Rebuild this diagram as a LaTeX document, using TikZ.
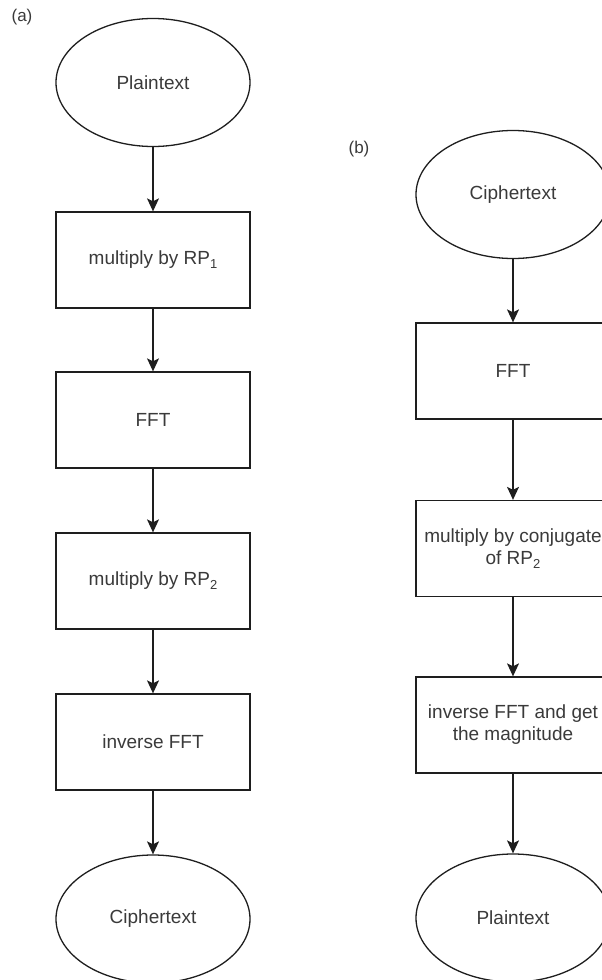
\documentclass[tikz,border=0pt]{standalone}
\usepackage{fontspec}
\setmainfont{Liberation Sans}
\usetikzlibrary{shapes.geometric,arrows.meta}

\definecolor{edgecol}{HTML}{1E1E1E}
\definecolor{textcol}{HTML}{3A3A3A}

% subscript index as drawn in the step labels
\newcommand{\rpidx}[1]{\raisebox{-0.35ex}{\fontsize{13}{13}\selectfont #1}}

\tikzset{
  base/.style={draw=edgecol, line width=1.3pt, fill=white, text=textcol,
    font=\fontsize{19}{22}\selectfont, align=center, inner sep=0pt},
  terminal/.style={base, ellipse, minimum width=194pt, minimum height=128pt},
  stepbox/.style={base, rectangle, minimum width=194pt, minimum height=96pt},
  flow/.style={draw=edgecol, line width=1.3pt,
    -{Stealth[length=13pt,width=12pt,inset=3pt]}},
  tag/.style={text=textcol, font=\fontsize{17}{20}\selectfont, inner sep=0pt}
}

\begin{document}
\begin{tikzpicture}[x=1pt,y=-1pt]
  \clip (0,0) rectangle (602,980);
  \fill[white] (0,0) rectangle (602,980);

  % panel (a): encryption
  \node[tag] (lblA) at (22,17) {(a)};
  \node[terminal] (aIn)  at (153,82.5) {Plaintext};
  \node[stepbox]  (aRP1) at (153,260)  {multiply by RP\rpidx{1}};
  \node[stepbox]  (aFFT) at (153,420)  {FFT};
  \node[stepbox]  (aRP2) at (153,581)  {multiply by RP\rpidx{2}};
  \node[stepbox]  (aIFT) at (153,742)  {inverse FFT};
  \node[terminal] (aOut) at (153,919)  {Ciphertext};

  \draw[flow] (aIn)  -- (aRP1);
  \draw[flow] (aRP1) -- (aFFT);
  \draw[flow] (aFFT) -- (aRP2);
  \draw[flow] (aRP2) -- (aIFT);
  \draw[flow] (aIFT) -- (aOut);

  % panel (b): decryption
  \node[tag] (lblB) at (359,149) {(b)};
  \node[terminal] (bIn)  at (513,194.5) {Ciphertext};
  \node[stepbox]  (bFFT) at (513,371)   {FFT};
  \node[stepbox]  (bCnj) at (513,548.5) {multiply by conjugate\\of RP\rpidx{2}};
  \node[stepbox]  (bIFT) at (513,725)   {inverse FFT and get\\the magnitude};
  \node[terminal] (bOut) at (513,918)   {Plaintext};

  \draw[flow] (bIn)  -- (bFFT);
  \draw[flow] (bFFT) -- (bCnj);
  \draw[flow] (bCnj) -- (bIFT);
  \draw[flow] (bIFT) -- (bOut);
\end{tikzpicture}
\end{document}
